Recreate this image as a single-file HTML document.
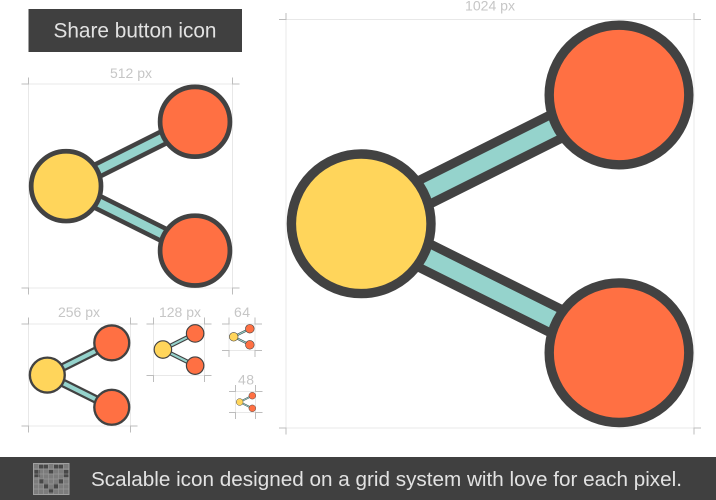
<!DOCTYPE html>
<html><head><meta charset="utf-8"><title>Share button icon</title>
<style>html,body{margin:0;padding:0;background:#fff}svg{display:block}text{font-family:"Liberation Sans",sans-serif}</style>
</head><body>
<svg xmlns="http://www.w3.org/2000/svg" width="716" height="500" viewBox="0 0 716 500">
<defs>
<g id="icon">
<path d="M75 204.500L333 75.500M75 204.500L333 333" stroke="#424242" stroke-width="35" fill="none"/>
<path d="M75 204.500L333 75.500M75 204.500L333 333" stroke="#95d3cc" stroke-width="17" fill="none"/>
<circle cx="333" cy="75.500" r="69.800" fill="#ff7043" stroke="#424242" stroke-width="9.400"/>
<circle cx="333" cy="333.200" r="69.800" fill="#ff7043" stroke="#424242" stroke-width="9.400"/>
<circle cx="75.200" cy="204.300" r="69.800" fill="#ffd55b" stroke="#424242" stroke-width="9.400"/>
</g>
</defs>
<rect width="716" height="500" fill="#fff"/>
<rect x="28.500" y="9" width="213.500" height="43" fill="#404040"/>
<text x="53.500" y="37.500" font-size="21" fill="#e2e2e2" textLength="163" lengthAdjust="spacingAndGlyphs">Share button icon</text>

<g fill="none" stroke="#e8e8e8" stroke-width="1">
<rect x="286" y="19.500" width="408" height="408.500"/>
<rect x="28.500" y="84" width="204" height="204"/>
<rect x="28.500" y="324" width="102" height="102"/>
<rect x="153.500" y="324" width="51" height="51.500"/>
<rect x="229" y="324" width="26" height="26.500"/>
<rect x="235.500" y="391.500" width="20" height="21"/>
</g>
<g fill="none" stroke="#bdbdbd" stroke-width="1">
<path d="M279 19.500h7v-6.500M694 13v6.500h7M279 428h7v6.500M701 428h-7v6.500"/>
<path d="M21.500 84h7v-6.500M232.500 77.500V84h7M21.500 288h7v6.500M239.500 288h-7v6.500"/>
<path d="M21.500 324h7v-6.500M130.500 317.500V324h7M21.500 426h7v6.500M137.500 426h-7v6.500"/>
<path d="M146.500 324h7v-6.500M204.500 317.500V324h7M146.500 375.500h7v6.500M211.500 375.500h-7v6.500"/>
<path d="M222 324h7v-6.500M255 317.500V324h7M222 350.500h7v6.500M262 350.500h-7v6.500"/>
<path d="M229 391.500h6.500v-6.500M255.500 385v6.500h7M229 412.500h6.500v6.500M262.500 412.500h-7v6.500"/>
</g>

<use href="#icon" transform="translate(286 19.500)"/>
<use href="#icon" transform="translate(28.500 84) scale(.5)"/>
<use href="#icon" transform="translate(28.500 324) scale(.25)"/>
<use href="#icon" transform="translate(153.500 324) scale(.125)"/>
<use href="#icon" transform="translate(229 324) scale(.0625)"/>
<use href="#icon" transform="translate(236 392) scale(.049)"/>

<g font-size="14" fill="#c6c6c6">
<text x="465" y="10.500" textLength="50" lengthAdjust="spacingAndGlyphs">1024 px</text>
<text x="110" y="78" textLength="42" lengthAdjust="spacingAndGlyphs">512 px</text>
<text x="58" y="317" textLength="42" lengthAdjust="spacingAndGlyphs">256 px</text>
<text x="159" y="317" textLength="42" lengthAdjust="spacingAndGlyphs">128 px</text>
<text x="234" y="317" textLength="16">64</text>
<text x="238" y="384.500" textLength="16">48</text>
</g>

<rect x="0" y="457" width="716" height="43" fill="#404040"/>
<rect x="33.500" y="463.500" width="35.500" height="31" fill="#7c7c7c" stroke="#a0a0a0" stroke-width="1"/>
<g fill="#484848">
<rect x="39" y="465" width="9" height="3.500"/>
<rect x="54" y="465" width="9" height="3.500"/>
<rect x="34.500" y="470" width="5" height="7"/>
<rect x="48.500" y="470" width="5" height="3.500"/>
<rect x="63.500" y="470" width="5" height="7"/>
<rect x="39.500" y="479" width="4.500" height="4.500"/>
<rect x="58.500" y="479" width="4.500" height="4.500"/>
<rect x="44" y="483.500" width="4.500" height="5"/>
<rect x="53.500" y="483.500" width="4.500" height="5"/>
<rect x="48.500" y="488.500" width="5" height="4"/>
</g>
<g stroke="#a8a8a8" stroke-width=".7" opacity=".6" fill="none">
<path d="M38.500 464v30M43.500 464v30M48.500 464v30M53.500 464v30M58.500 464v30M63.500 464v30M34 469h35M34 474h35M34 479h35M34 484h35M34 489h35"/>
</g>
<text x="91" y="486" font-size="20" fill="#e2e2e2" textLength="591" lengthAdjust="spacingAndGlyphs">Scalable icon designed on a grid system with love for each pixel.</text>
</svg>
</body></html>
